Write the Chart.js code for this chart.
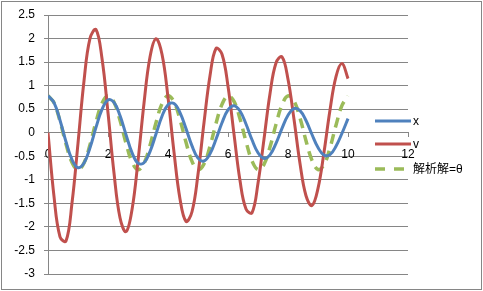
<!DOCTYPE html>
<html>
<head>
<meta charset="utf-8">
<script src="https://cdn.jsdelivr.net/npm/chart.js@4.4.0/dist/chart.umd.min.js"></script>
<style>
html,body{margin:0;padding:0;background:#fff;overflow:hidden}
#wrap{position:relative;width:483px;height:291px}
</style>
</head>
<body>
<div id="wrap"><canvas id="c" width="483" height="291"></canvas></div>
<script>
// ---- data ----
const time = [0,0.2,0.4,0.6,0.8,1,1.2,1.4,1.6,1.8,2,2.2,2.4,2.6,2.8,3,3.2,3.4,3.6,3.8,4,4.2,4.4,4.6,4.8,5,5.2,5.4,5.6,5.8,6,6.2,6.4,6.6,6.8,7,7.2,7.4,7.6,7.8,8,8.2,8.4,8.6,8.8,9,9.2,9.4,9.6,9.8,10];
const xValues = [0.785,0.638,0.266,-0.192,-0.573,-0.743,-0.645,-0.320,0.113,0.496,0.696,0.644,0.364,-0.040,-0.422,-0.647,-0.637,-0.401,-0.027,0.349,0.594,0.622,0.429,0.087,-0.279,-0.539,-0.601,-0.449,-0.140,0.213,0.483,0.575,0.462,0.186,-0.150,-0.426,-0.546,-0.469,-0.226,0.092,0.371,0.513,0.469,0.260,-0.038,-0.316,-0.476,-0.465,-0.287,-0.011,0.300];
const vValues = [0,-1.353,-2.210,-2.300,-1.492,-0.224,1.099,2.003,2.190,1.576,0.424,-0.856,-1.806,-2.100,-1.633,-0.600,0.626,1.607,1.994,1.667,0.752,-0.412,-1.406,-1.882,-1.678,-0.881,0.212,1.209,1.790,1.667,0.988,-0.030,-1.016,-1.621,-1.700,-1.073,-0.136,0.830,1.482,1.610,1.136,0.285,-0.652,-1.339,-1.545,-1.182,-0.415,0.484,1.193,1.470,1.150];
const thetaValues = [0.785,0.636,0.246,-0.238,-0.631,-0.785,-0.641,-0.254,0.229,0.625,0.785,0.646,0.263,-0.220,-0.620,-0.785,-0.651,-0.271,0.212,0.615,0.784,0.656,0.280,-0.203,-0.609,-0.784,-0.661,-0.288,0.195,0.603,0.783,0.666,0.296,-0.186,-0.598,-0.782,-0.671,-0.304,0.177,0.592,0.782,0.675,0.313,-0.169,-0.586,-0.781,-0.680,-0.321,0.160,0.580,0.780];
const seriesNames = ['x', 'v', '解析解=θ'];
const xTickValues = [0, 2, 4, 6, 8, 10, 12];
const yTickValues = [-3, -2.5, -2, -1.5, -1, -0.5, 0, 0.5, 1, 1.5, 2, 2.5];

// ---- styling ----
const FONT = '"Liberation Sans", "Noto Sans CJK JP", sans-serif';
const GRID = '#868686';
const toXY = vals => time.map((t, i) => ({x: t, y: vals[i]}));

const legendY = [121, 144, 169];
const legendPlugin = {
  id: 'customLegend',
  afterDraw(chart) {
    const ctx = chart.ctx;
    ctx.save();
    // outer chart border
    ctx.strokeStyle = GRID;
    ctx.lineWidth = 1;
    ctx.setLineDash([]);
    ctx.strokeRect(1.5, 1.5, 480, 288);
    chart.data.datasets.forEach((ds, i) => {
      const y = legendY[i];
      ctx.strokeStyle = ds.borderColor;
      ctx.lineWidth = ds.borderWidth;
      ctx.lineCap = 'butt';
      ctx.setLineDash(ds.borderDash ? [10, 9] : []);
      ctx.beginPath();
      ctx.moveTo(375, y);
      ctx.lineTo(411, y);
      ctx.stroke();
      ctx.setLineDash([]);
      ctx.fillStyle = '#000';
      ctx.font = '12px ' + FONT;
      ctx.textBaseline = 'middle';
      ctx.textAlign = 'left';
      ctx.fillText(ds.label, 413, y + 1);
    });
    ctx.restore();
  }
};

new Chart(document.getElementById('c'), {
  type: 'line',
  data: {
    datasets: [
      {label: seriesNames[0], data: toXY(xValues), borderColor: '#4F81BD', borderWidth: 3, tension: 0.4, pointRadius: 0, fill: false},
      {label: seriesNames[1], data: toXY(vValues), borderColor: '#C0504D', borderWidth: 3, tension: 0.4, pointRadius: 0, fill: false},
      {label: seriesNames[2], data: toXY(thetaValues), borderColor: '#9BBB59', borderWidth: 3.5, borderDash: [10, 7], tension: 0.4, pointRadius: 0, fill: false}
    ]
  },
  options: {
    responsive: false,
    animation: false,
    events: [],
    devicePixelRatio: 1,
    layout: {padding: {left: 0, top: 15, right: 75, bottom: 17}},
    plugins: {legend: {display: false}, tooltip: {enabled: false}},
    scales: {
      x: {
        type: 'linear', min: 0, max: 12, position: {y: 0},
        afterBuildTicks: s => { s.ticks = xTickValues.map(v => ({value: v})); },
        ticks: {color: '#000', font: {family: FONT, size: 12}, padding: 11, maxRotation: 0, autoSkip: false, callback: v => String(v)},
        grid: {drawOnChartArea: false, drawTicks: true, tickLength: 4, color: GRID},
        border: {color: GRID, width: 1},
        afterFit: s => { s.paddingLeft = 0; s.paddingRight = 0; s.paddingTop = 0; s.paddingBottom = 0; }
      },
      y: {
        type: 'linear', min: -3, max: 2.5,
        afterBuildTicks: s => { s.ticks = yTickValues.map(v => ({value: v})); },
        ticks: {color: '#000', font: {family: FONT, size: 12}, padding: 9, callback: v => String(v)},
        grid: {color: GRID, drawTicks: true, tickLength: 4},
        border: {color: GRID, width: 1},
        afterFit: s => { s.width = 48; s.paddingTop = 0; s.paddingBottom = 0; }
      }
    }
  },
  plugins: [legendPlugin]
});
</script>
</body>
</html>
